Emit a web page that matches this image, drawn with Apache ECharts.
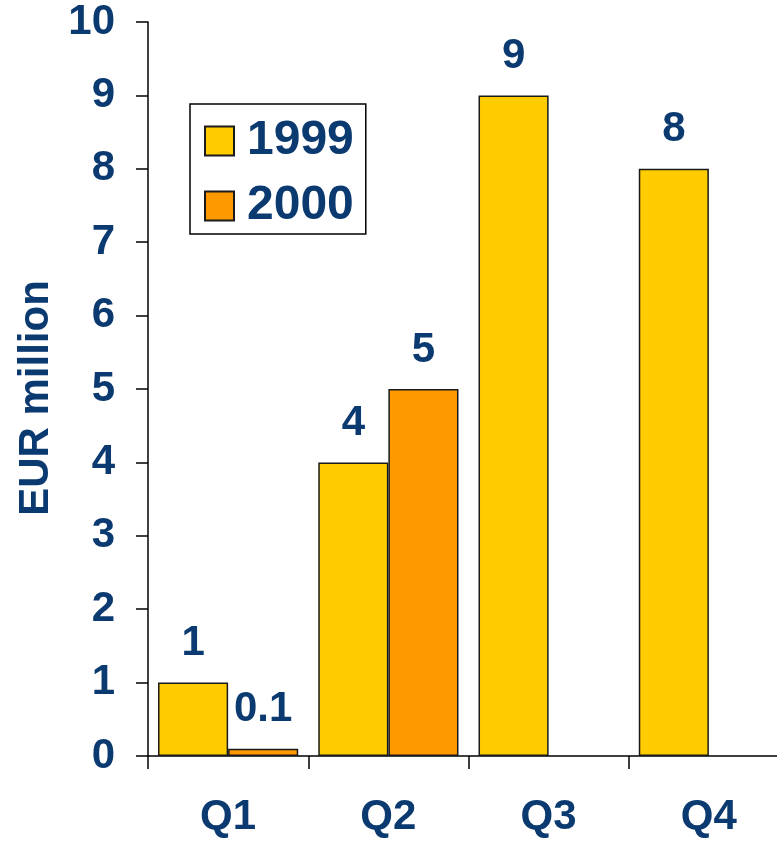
<!DOCTYPE html>
<html>
<head>
<meta charset="utf-8">
<script src="https://cdn.jsdelivr.net/npm/echarts@6/dist/echarts.min.js"></script>
<style>
  html, body { margin: 0; padding: 0; background: #ffffff; }
  #chart { width: 777px; height: 844px; }
</style>
</head>
<body>
<div id="chart"></div>
<script>
// Quarterly figures, EUR million
const quarters = ['Q1', 'Q2', 'Q3', 'Q4'];
const values1999 = [1, 4, 9, 8];
const values2000 = [0.1, 5, null, null];
const yTicks = { min: 0, max: 10, interval: 1 };

const navy = '#0b3a70';
const font = 'Liberation Sans, Arial, sans-serif';

const chart = echarts.init(document.getElementById('chart'), null, { renderer: 'canvas' });

const barLabel = {
  show: true,
  position: 'top',
  distance: 18,
  color: navy,
  fontFamily: font,
  fontWeight: 'bold',
  fontSize: 42,
  formatter: p => (p.value == null ? '' : String(p.value))
};

chart.setOption({
  backgroundColor: '#ffffff',
  animation: false,
  // plot runs past the right edge of the canvas, so the last category is clipped
  grid: { left: 148, top: 22, bottom: 88, width: 641, containLabel: false, outerBoundsMode: 'none' },
  legend: {
    orient: 'vertical',
    left: 190,
    top: 104,
    padding: [13, 12, 4, 14],
    itemGap: 17,
    itemWidth: 29,
    itemHeight: 29,
    icon: 'rect',
    borderColor: '#000000',
    borderWidth: 1.5,
    backgroundColor: '#ffffff',
    textStyle: { color: navy, fontFamily: font, fontWeight: 'bold', fontSize: 48, padding: [0, 0, 0, 8] },
    data: ['1999', '2000']
  },
  xAxis: {
    type: 'category',
    data: quarters,
    axisLine: { lineStyle: { color: '#000000', width: 1.5 } },
    axisTick: { show: true, length: 13, alignWithLabel: false, lineStyle: { color: '#000000', width: 1.5 } },
    axisLabel: { color: navy, fontFamily: font, fontWeight: 'bold', fontSize: 42, margin: 40 },
    splitLine: { show: false }
  },
  yAxis: {
    type: 'value',
    min: yTicks.min,
    max: yTicks.max,
    interval: yTicks.interval,
    name: 'EUR million',
    nameLocation: 'middle',
    nameGap: 86,
    nameRotate: 90,
    nameTextStyle: { color: navy, fontFamily: font, fontWeight: 'bold', fontSize: 42, padding: [0, 18, 0, 0] },
    axisLine: { show: true, lineStyle: { color: '#000000', width: 1.5 } },
    axisTick: { show: true, length: 12, lineStyle: { color: '#000000', width: 1.5 } },
    axisLabel: { color: navy, fontFamily: font, fontWeight: 'bold', fontSize: 42, margin: 33 },
    splitLine: { show: false }
  },
  series: [
    {
      name: '1999',
      type: 'bar',
      data: values1999,
      barGap: '0%',
      barCategoryGap: '12.5%',
      itemStyle: { color: '#ffcc00', borderColor: '#1a1a1a', borderWidth: 1.5 },
      label: barLabel
    },
    {
      name: '2000',
      type: 'bar',
      data: values2000,
      barGap: '0%',
      barCategoryGap: '12.5%',
      itemStyle: { color: '#ff9900', borderColor: '#1a1a1a', borderWidth: 1.5 },
      label: barLabel
    }
  ]
});
</script>
</body>
</html>
